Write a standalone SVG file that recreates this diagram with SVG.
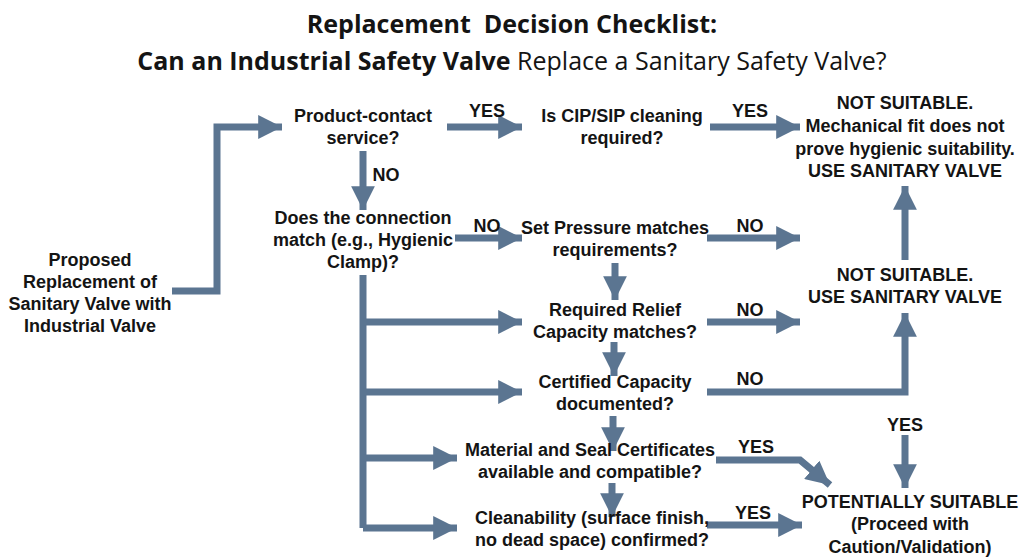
<svg xmlns="http://www.w3.org/2000/svg" width="1024" height="559" viewBox="0 0 1024 559">
<defs>
<marker id="ah" markerWidth="3.4" markerHeight="3.4" refX="3.4" refY="1.7" orient="auto" markerUnits="strokeWidth"><path d="M0,0 L3.4,1.7 L0,3.4 z" fill="#5b7591"/></marker>
<style>
.c{fill:none;stroke:#5b7591;stroke-width:7;marker-end:url(#ah)}
.p{fill:none;stroke:#5b7591;stroke-width:7}
text{font-family:"Liberation Sans Narrow","Liberation Sans",Arial,sans-serif;font-weight:bold;font-size:18px;fill:#141414;text-anchor:middle}
.t{font-family:"Open Sans","Liberation Sans",sans-serif;font-size:25px}
</style>
</defs>
<rect width="1024" height="559" fill="#fff"/>
<g id="title">
<text class="t" x="512" y="33" xml:space="preserve">Replacement  Decision Checklist:</text>
<text class="t" x="512" y="70">Can an Industrial Safety Valve <tspan font-weight="normal">Replace a Sanitary Safety Valve?</tspan></text>
</g>
<g id="connectors">
<path class="c" d="M172,291 H217 V127 H282"/>
<path class="c" d="M447,127 H522"/>
<path class="c" d="M710,127 H800"/>
<path class="c" d="M363,151 V210"/>
<path class="c" d="M455,238 H522"/>
<path class="c" d="M707,238 H800"/>
<path class="c" d="M615,263 V300"/>
<path class="c" d="M707,322 H800"/>
<path class="c" d="M614,342 V376"/>
<path class="c" d="M707,392 H905 V313"/>
<path class="c" d="M905,260 V186"/>
<path class="c" d="M613,416 V451"/>
<path class="c" d="M716,460 H800 L830,485"/>
<path class="c" d="M612,483 V517"/>
<path class="c" d="M707,525 H802"/>
<path class="c" d="M905,435 V488"/>
<path class="p" d="M363,275 V528"/>
<path class="c" d="M363,322 H522"/>
<path class="c" d="M363,392 H522"/>
<path class="c" d="M363,458 H457"/>
<path class="c" d="M363,528 H457"/>
<text x="487" y="117">YES</text>
<text x="750" y="117">YES</text>
<text x="386" y="181">NO</text>
<text x="487" y="232">NO</text>
<text x="750" y="232">NO</text>
<text x="750" y="316">NO</text>
<text x="750" y="385">NO</text>
<text x="756" y="453">YES</text>
<text x="753" y="519">YES</text>
<text x="905" y="431">YES</text>
</g>
<g id="start"><text x="90" y="266">Proposed</text><text x="90" y="288">Replacement of</text><text x="90" y="310">Sanitary Valve with</text><text x="90" y="332">Industrial Valve</text></g>
<g id="product"><text x="363" y="122">Product-contact</text><text x="363" y="144">service?</text></g>
<g id="cip"><text x="622" y="122">Is CIP/SIP cleaning</text><text x="622" y="144">required?</text></g>
<g id="ns1"><text x="905" y="109">NOT SUITABLE.</text><text x="905" y="132">Mechanical fit does not</text><text x="905" y="155">prove hygienic suitability.</text><text x="905" y="177">USE SANITARY VALVE</text></g>
<g id="conn"><text x="363" y="224">Does the connection</text><text x="363" y="246">match (e.g., Hygienic</text><text x="363" y="268">Clamp)?</text></g>
<g id="setp"><text x="615" y="234">Set Pressure matches</text><text x="615" y="256">requirements?</text></g>
<g id="relief"><text x="615" y="316">Required Relief</text><text x="615" y="338">Capacity matches?</text></g>
<g id="cert"><text x="615" y="388">Certified Capacity</text><text x="615" y="410">documented?</text></g>
<g id="ns2"><text x="905" y="281">NOT SUITABLE.</text><text x="905" y="303">USE SANITARY VALVE</text></g>
<g id="mat"><text x="590" y="456">Material and Seal Certificates</text><text x="590" y="478">available and compatible?</text></g>
<g id="clean"><text x="592" y="524">Cleanability (surface finish,</text><text x="592" y="546">no dead space) confirmed?</text></g>
<g id="pot"><text x="910" y="508">POTENTIALLY SUITABLE</text><text x="910" y="530">(Proceed with</text><text x="910" y="553">Caution/Validation)</text></g>
</svg>
